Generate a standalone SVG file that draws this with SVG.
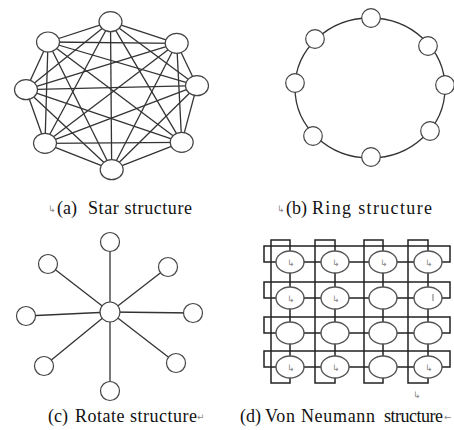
<svg xmlns="http://www.w3.org/2000/svg" width="454" height="430" viewBox="0 0 454 430">
<style>
.e{stroke:#333;stroke-width:1.3;fill:none}
.n{fill:#fff;stroke:#444;stroke-width:1.2}
.g{stroke:#222;stroke-width:1.5;fill:none}
.gn{fill:#fff;stroke:#555;stroke-width:1.4}
.lb{font-family:"Liberation Serif","Times New Roman",serif;font-size:18px;fill:#111}
.pm{font-family:"DejaVu Sans",sans-serif;font-size:9px;fill:#888}
</style>
<rect width="454" height="430" fill="#fff"/>
<g id="connectors">
<g id="star-edges" class="e">
<line x1="110.5" y1="21.7" x2="176.7" y2="43.3"/><line x1="110.5" y1="21.7" x2="197" y2="85.7"/><line x1="110.5" y1="21.7" x2="181.7" y2="142.3"/><line x1="110.5" y1="21.7" x2="111.7" y2="169.7"/><line x1="110.5" y1="21.7" x2="45" y2="143.3"/><line x1="110.5" y1="21.7" x2="26" y2="89.7"/><line x1="110.5" y1="21.7" x2="48" y2="42"/>
<line x1="176.7" y1="43.3" x2="197" y2="85.7"/><line x1="176.7" y1="43.3" x2="181.7" y2="142.3"/><line x1="176.7" y1="43.3" x2="111.7" y2="169.7"/><line x1="176.7" y1="43.3" x2="45" y2="143.3"/><line x1="176.7" y1="43.3" x2="26" y2="89.7"/><line x1="176.7" y1="43.3" x2="48" y2="42"/>
<line x1="197" y1="85.7" x2="181.7" y2="142.3"/><line x1="197" y1="85.7" x2="111.7" y2="169.7"/><line x1="197" y1="85.7" x2="45" y2="143.3"/><line x1="197" y1="85.7" x2="26" y2="89.7"/><line x1="197" y1="85.7" x2="48" y2="42"/>
<line x1="181.7" y1="142.3" x2="111.7" y2="169.7"/><line x1="181.7" y1="142.3" x2="45" y2="143.3"/><line x1="181.7" y1="142.3" x2="26" y2="89.7"/><line x1="181.7" y1="142.3" x2="48" y2="42"/>
<line x1="111.7" y1="169.7" x2="45" y2="143.3"/><line x1="111.7" y1="169.7" x2="26" y2="89.7"/><line x1="111.7" y1="169.7" x2="48" y2="42"/>
<line x1="45" y1="143.3" x2="26" y2="89.7"/><line x1="45" y1="143.3" x2="48" y2="42"/>
<line x1="26" y1="89.7" x2="48" y2="42"/>
</g>
<ellipse id="ring-edge" class="e" cx="370" cy="88" rx="75" ry="70"/>
<g id="rotate-edges" class="e">
<line x1="110" y1="312" x2="110" y2="242"/><line x1="110" y1="312" x2="48" y2="264"/><line x1="110" y1="312" x2="168" y2="267"/><line x1="110" y1="312" x2="26" y2="316"/><line x1="110" y1="312" x2="193" y2="313"/><line x1="110" y1="312" x2="44" y2="366"/><line x1="110" y1="312" x2="176" y2="363"/><line x1="110" y1="312" x2="110" y2="391"/>
</g>
<g id="vn-edges" class="g">
<rect x="264" y="246" width="186" height="16"/>
<rect x="264" y="282" width="186" height="16"/>
<rect x="264" y="317" width="186" height="16"/>
<rect x="264" y="351" width="186" height="16"/>
<rect x="271" y="240" width="19" height="143"/>
<rect x="315" y="240" width="20" height="143"/>
<rect x="364" y="240" width="19" height="143"/>
<rect x="408" y="240" width="20" height="143"/>
</g>
</g>
<g id="star-nodes" class="n">
<ellipse id="a0" cx="110.5" cy="21.7" rx="11.5" ry="10"/>
<ellipse id="a1" cx="176.7" cy="43.3" rx="11.5" ry="10"/>
<ellipse id="a2" cx="197" cy="85.7" rx="11.5" ry="10"/>
<ellipse id="a3" cx="181.7" cy="142.3" rx="11.5" ry="10"/>
<ellipse id="a4" cx="111.7" cy="169.7" rx="11.5" ry="10"/>
<ellipse id="a5" cx="45" cy="143.3" rx="11.5" ry="10"/>
<ellipse id="a6" cx="26" cy="89.7" rx="11.5" ry="10"/>
<ellipse id="a7" cx="48" cy="42" rx="11.5" ry="10"/>
</g>
<g id="ring-nodes" class="n">
<circle id="b0" cx="371" cy="18" r="9.3"/>
<circle id="b1" cx="428" cy="46" r="9.3"/>
<circle id="b2" cx="445" cy="85" r="9.3"/>
<circle id="b3" cx="430" cy="131" r="9.3"/>
<circle id="b4" cx="371" cy="157" r="9.3"/>
<circle id="b5" cx="313" cy="136" r="9.3"/>
<circle id="b6" cx="295" cy="83" r="9.3"/>
<circle id="b7" cx="315" cy="39" r="9.3"/>
</g>
<g id="rotate-nodes" class="n">
<circle id="c-center" cx="110" cy="312" r="10"/>
<circle id="c0" cx="110" cy="242" r="9.5"/>
<circle id="c1" cx="168" cy="267" r="9.5"/>
<circle id="c2" cx="193" cy="313" r="9.5"/>
<circle id="c3" cx="176" cy="363" r="9.5"/>
<circle id="c4" cx="110" cy="391" r="9.5"/>
<circle id="c5" cx="44" cy="366" r="9.5"/>
<circle id="c6" cx="26" cy="316" r="9.5"/>
<circle id="c7" cx="48" cy="264" r="9.5"/>
</g>
<g id="vn-nodes" class="gn">
<ellipse id="d11" cx="290" cy="262" rx="14" ry="11"/>
<ellipse id="d12" cx="335" cy="262" rx="14" ry="11"/>
<ellipse id="d13" cx="383" cy="262" rx="14" ry="11"/>
<ellipse id="d14" cx="428" cy="262" rx="14" ry="11"/>
<ellipse id="d21" cx="290" cy="298" rx="14" ry="11"/>
<ellipse id="d22" cx="335" cy="298" rx="14" ry="11"/>
<ellipse id="d23" cx="383" cy="298" rx="14" ry="11"/>
<ellipse id="d24" cx="428" cy="298" rx="14" ry="11"/>
<ellipse id="d31" cx="290" cy="333" rx="14" ry="11"/>
<ellipse id="d32" cx="335" cy="333" rx="14" ry="11"/>
<ellipse id="d33" cx="383" cy="333" rx="14" ry="11"/>
<ellipse id="d34" cx="428" cy="333" rx="14" ry="11"/>
<ellipse id="d41" cx="290" cy="367" rx="14" ry="11"/>
<ellipse id="d42" cx="335" cy="367" rx="14" ry="11"/>
<ellipse id="d43" cx="383" cy="367" rx="14" ry="11"/>
<ellipse id="d44" cx="428" cy="367" rx="14" ry="11"/>
</g>
<g id="marks" class="pm">
<text x="287" y="266">↳</text><text x="332" y="266">↳</text><text x="380" y="266">↳</text><text x="425" y="266">↳</text>
<text x="287" y="302">↳</text><text x="332" y="302">↳</text>
<text x="287" y="371">↳</text><text x="332" y="371">↳</text><text x="425" y="371">↳</text>
<text x="413" y="398">↳</text>
</g>
<line x1="433" y1="294" x2="433" y2="301" stroke="#888" stroke-width="1.2"/>
<g id="labels">
<text class="pm" x="48" y="212">↳</text>
<text class="lb" x="57" y="214">(a)</text>
<text class="lb" x="88" y="214" textLength="104" lengthAdjust="spacing">Star structure</text>
<text class="pm" x="277" y="212">↳</text>
<text class="lb" x="286" y="214">(b)</text>
<text class="lb" x="312" y="214" textLength="120" lengthAdjust="spacing">Ring structure</text>
<text class="lb" x="48" y="422">(c)</text>
<text class="lb" x="75" y="422" textLength="122" lengthAdjust="spacing">Rotate structure</text>
<text class="pm" x="197" y="420">↵</text>
<text class="lb" x="240" y="422">(d)</text>
<text class="lb" x="265" y="422" textLength="110" lengthAdjust="spacing">Von Neumann</text>
<text class="lb" x="384" y="422" textLength="59" lengthAdjust="spacing">structure</text>
<text class="pm" x="444" y="420" font-size="7">←</text>
</g>
</svg>
